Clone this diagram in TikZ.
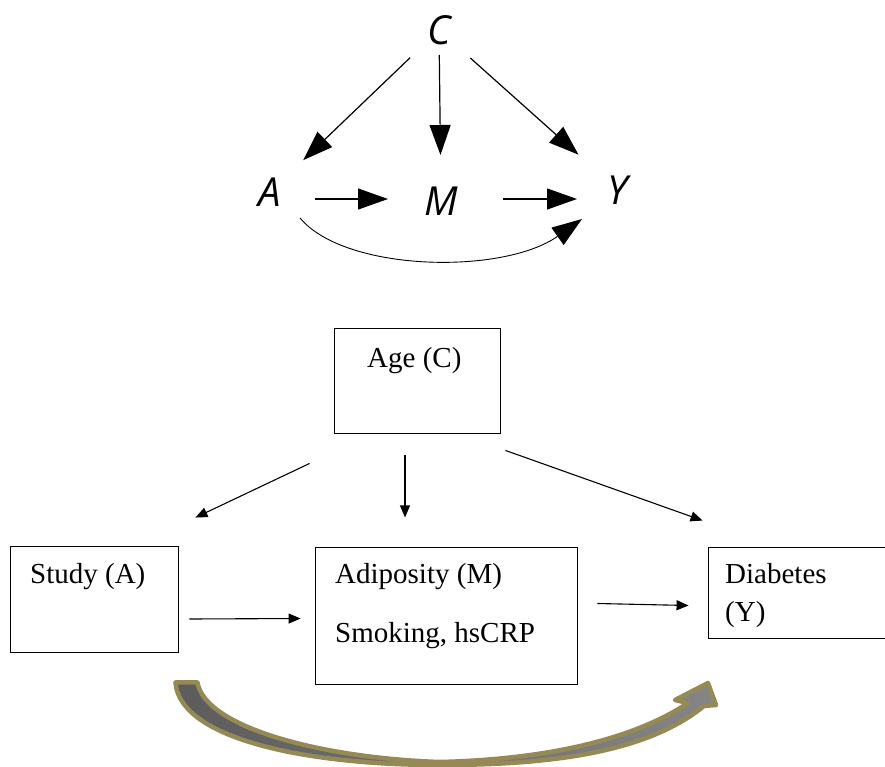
\documentclass[tikz,border=0pt]{standalone}
\usepackage{fontspec}
\setmainfont{Liberation Serif}
\newfontfamily\dagfont{Open Sans}
\usetikzlibrary{arrows.meta,calc}
\definecolor{olive}{HTML}{958A55}
\definecolor{graydark}{HTML}{5C5C5C}
\definecolor{graylight}{HTML}{858585}
\begin{document}
\begin{tikzpicture}[x=1pt,y=-1pt,
  letter/.style={font=\dagfont\itshape\fontsize{40}{40}\selectfont, inner sep=0pt},
  big/.style={line width=1.2pt, -{Triangle[length=30pt,width=21pt]}},
  boxnode/.style={draw, line width=0.9pt, rectangle, inner sep=0pt},
  txt/.style={font=\fontsize{29}{29}\selectfont, anchor=base west, inner sep=0pt},
  small/.style={line width=1.1pt, -{Triangle[length=12pt,width=10pt]}}]
\useasboundingbox (0,0) rectangle (885,767);
% top DAG
\node[letter] (C) at (439,30) {C};
\node[letter] (A) at (270,192) {A};
\node[letter] (M) at (441,201) {M};
\node[letter] (Y) at (618,190) {Y};
\draw[big] ($(C)!40pt!(A)$) -- ($(A)!46pt!(C)$);
\draw[big] ($(C)!25pt!(M)$) -- ($(M)!46pt!(C)$);
\draw[big] ($(C)!42pt!(Y)$) -- ($(Y)!53pt!(C)$);
\draw[big] ($(A)+(45,7)$) -- ($(M)+(-53,-2)$);
\draw[big] ($(M)+(62,-2)$) -- ($(Y)+(-41,9)$);
\draw[big, line width=0.9pt] ($(A)+(30,26)$) .. controls ($(A)+(75,80)$) and ($(Y)+(-115,85)$) .. ($(Y)+(-36,29)$);
% boxes
\node[boxnode, minimum width=166pt, minimum height=105pt] (age) at (417,380.5) {};
\node[boxnode, minimum width=168pt, minimum height=106pt] (study) at (94,599) {};
\node[boxnode, minimum width=262pt, minimum height=137pt] (adip) at (446,615.5) {};
\node[boxnode, minimum width=184pt, minimum height=91pt] (diab) at (800,592.5) {};
\node[txt] (agetxt) at (367,367) {Age (C)};
\node[txt] (studytxt) at (30,583) {Study (A)};
\node[txt] (adiptxt) at (335,583) {Adiposity (M)};
\node[txt] (smoketxt) at (335,642) {Smoking, hsCRP};
\node[txt] (diabtxt) at (725,583) {Diabetes};
\node[txt] (ytxt) at (725,621) {(Y)};
% small arrows
\draw[small] ($(age.south west)+(-24,30)$) -- ($(study.north east)+(17,-28)$);
\draw[small] ($(age.south)+(-12,22)$) -- ($(age.south)+(-12,84)$);
\draw[small] ($(age.south east)+(5,17)$) -- ($(diab.north west)+(-5,-26)$);
\draw[small] ($(study.east)+(11,20)$) -- ($(adip.west)+(-14,3)$);
\draw[small] ($(adip.east)+(20,-12)$) -- ($(diab.west)+(-19,13)$);
% curved block arrow
\coordinate (bl) at ($(study.south east)+(-3,30)$);
\draw[line width=4.5pt, olive, left color=graydark, right color=graylight, line join=round]
  (bl) -- ++(22,0) .. controls (205,727) and (320,758) .. (440,762)
  .. controls (560,759) and (640,735) .. (688,703)
  -- (675,700) -- (708,683) -- (716,705) -- (704,706)
  .. controls (650,750) and (560,765) .. (440,765)
  .. controls (310,765) and (180,740) .. (bl) -- cycle;
\end{tikzpicture}
\end{document}
